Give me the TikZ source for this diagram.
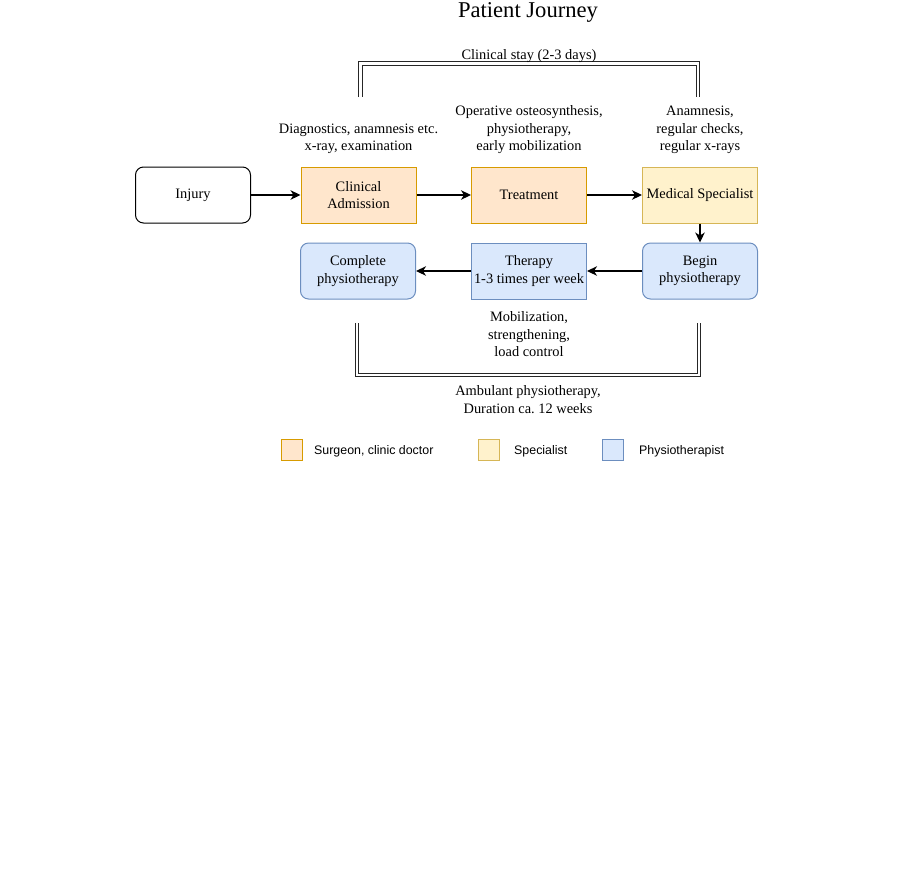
\documentclass[tikz,border=0pt]{standalone}
\usepackage{fontspec}
\setmainfont{Liberation Serif}
\setsansfont{Liberation Sans}
\usetikzlibrary{positioning, arrows.meta}

\definecolor{surgfill}{HTML}{FFE6CC}
\definecolor{surgline}{HTML}{D79B00}
\definecolor{specfill}{HTML}{FFF2CC}
\definecolor{specline}{HTML}{D6B656}
\definecolor{physfill}{HTML}{DAE8FC}
\definecolor{physline}{HTML}{6C8EBF}

\begin{document}
\begin{tikzpicture}[x=1pt, y=-1pt, on grid, >={Stealth[length=10pt,width=9.5pt,inset=3pt]},
        every node/.style={font=\fontsize{14.4}{17.4}\selectfont, align=center, inner sep=0pt},
        station/.style={draw, line width=1pt, minimum width=115pt, minimum height=56pt},
        surgeon/.style={station, fill=surgfill, draw=surgline},
        specbox/.style={station, fill=specfill, draw=specline},
        physio/.style={station, fill=physfill, draw=physline},
        link/.style={draw=black!85, double=white, line width=1.1pt, double distance=2.2pt},
        key/.style={line width=1pt, minimum size=21pt},
        keytext/.style={anchor=base west, font=\sffamily\fontsize{12.4}{15}\selectfont}]
        \useasboundingbox (0,0) rectangle (901,884);

        \node[anchor=base, font=\fontsize{22.6}{27}\selectfont] (title) at (528,17) {Patient Journey};

        % first row
        \node[station, rounded corners=8pt, fill=white] (injury) at (193,195) {Injury};
        \node[surgeon, right=165.5pt of injury] (admission) {Clinical\\Admission};
        \node[surgeon, right=170.5pt of admission] (treatment) {Treatment};
        \node[specbox, right=171pt of treatment] (medspec) {Medical Specialist};

        % second row
        \node[physio, rounded corners=8pt, below=76pt of medspec] (beginphys) {Begin\\physiotherapy};
        \node[physio, left=171pt of beginphys] (therapy) {Therapy\\1-3 times per week};
        \node[physio, rounded corners=8pt, left=171pt of therapy] (completephys) {Complete\\physiotherapy};

        \path[->, line width=1.2pt]
        (injury) edge (admission)
        (admission) edge (treatment)
        (treatment) edge (medspec)
        (medspec) edge (beginphys)
        (beginphys) edge (therapy)
        (therapy) edge (completephys);

        % notes
        \node[anchor=south] (admnote) at ([yshift=12.7pt]admission.north) {Diagnostics, anamnesis etc.\\x-ray, examination};
        \node[anchor=south] (treatnote) at ([yshift=12.7pt]treatment.north) {Operative osteosynthesis,\\physiotherapy,\\early mobilization};
        \node[anchor=south] (specnote) at ([yshift=12.7pt]medspec.north) {Anamnesis,\\regular checks,\\regular x-rays};
        \node[anchor=north] (therapynote) at ([yshift=-12pt]therapy.south) {Mobilization,\\strengthening,\\load control};

        % clinical stay
        \coordinate (stayleft) at (360.5,97);
        \coordinate (staytop) at (529,63.5);
        \coordinate (stayright) at (698,97);
        \draw[link] (stayleft) |- (staytop) -| (stayright);
        \node[anchor=base] (staytext) at ([yshift=4.5pt]staytop) {Clinical stay (2-3 days)};

        % ambulant physiotherapy
        \coordinate (ambleft) at (356.7,323);
        \coordinate (ambbottom) at (528,375);
        \coordinate (ambright) at (699,323);
        \draw[link] (ambleft) |- (ambbottom) -| (ambright);
        \node[anchor=north] (ambtext) at ([yshift=-10.4pt]ambbottom) {Ambulant physiotherapy,\\Duration ca.\ 12 weeks};

        % legend
        \node[key, fill=surgfill, draw=surgline] (keysurg) at (291.5,449.5) {};
        \node[keytext] (keysurgtext) at (314,454.3) {Surgeon, clinic doctor};
        \node[key, fill=specfill, draw=specline] (keyspec) at (488.5,449.5) {};
        \node[keytext] (keyspectext) at (514,454.3) {Specialist};
        \node[key, fill=physfill, draw=physline] (keyphys) at (613,449.5) {};
        \node[keytext] (keyphystext) at (639,454.3) {Physiotherapist};
    \end{tikzpicture}
\end{document}
